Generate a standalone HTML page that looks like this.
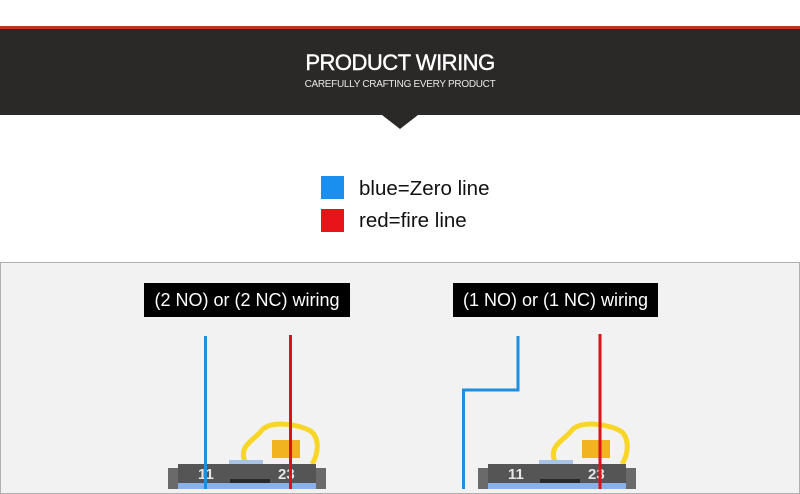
<!DOCTYPE html>
<html><head><meta charset="utf-8"><style>
body{margin:0;width:800px;height:489px;overflow:hidden;background:#fff;font-family:"Liberation Sans",sans-serif;position:relative}
.a{position:absolute}
</style></head><body>
<div class="a" style="left:0;top:26px;width:800px;height:3px;background:#b8361c"></div>
<div class="a" style="left:0;top:29px;width:800px;height:86px;background:#2b2927"></div>
<div class="a" style="left:0;top:50px;width:800px;text-align:center;color:#fff;font-size:22px;letter-spacing:-0.5px;-webkit-text-stroke:0.4px #fff">PRODUCT WIRING</div>
<div class="a" style="left:0;top:79px;width:800px;text-align:center;color:#e8e8e8;font-size:10px;letter-spacing:-0.3px">CAREFULLY CRAFTING EVERY PRODUCT</div>
<div class="a" style="left:382px;top:115px;width:0;height:0;border-left:18px solid transparent;border-right:18px solid transparent;border-top:14px solid #2b2927"></div>
<div class="a" style="left:321px;top:176px;width:23px;height:23px;background:#1a8ff0"></div>
<div class="a" style="left:321px;top:209px;width:23px;height:23px;background:#e8141a"></div>
<div class="a" style="left:359px;top:177px;font-size:20.5px;color:#111">blue=Zero line</div>
<div class="a" style="left:359px;top:209px;font-size:20.5px;color:#111">red=fire line</div>
<div class="a" style="left:0;top:262px;width:798px;height:230px;background:#f3f2f3;border:1px solid #b0b0b0"></div>
<div class="a" style="left:144px;top:283px;width:206px;height:34px;background:#000;color:#fff;font-size:18px;line-height:34px;text-align:center">(2 NO) or (2 NC) wiring</div>
<div class="a" style="left:453px;top:283px;width:205px;height:34px;background:#000;color:#fff;font-size:18px;line-height:34px;text-align:center">(1 NO) or (1 NC) wiring</div>
<svg class="a" style="left:0;top:0" width="800" height="489">
<defs><g id="d">
<path d="M245 462 C238 445 255 440 262 430 C272 420 300 424 312 432 C320 440 318 455 312 464" fill="none" stroke="#f7d628" stroke-width="5"/>
<rect x="272" y="440" width="28" height="18" fill="#f2b320"/>
<rect x="229" y="460" width="34" height="5" fill="#a9c3e6"/>
<rect x="168" y="468" width="158" height="21" fill="#6a6a6a"/>
<rect x="178" y="464" width="138" height="19" fill="#555"/>
<rect x="230" y="479" width="40" height="5" fill="#2a2a2a"/>
<rect x="178" y="483" width="138" height="6" fill="#8ab2ea"/>
<text x="198" y="479" fill="#e6e6e6" font-family="Liberation Sans" font-size="15" font-weight="bold">11</text>
<text x="278" y="479" fill="#e6e6e6" font-family="Liberation Sans" font-size="15" font-weight="bold">23</text>
</g></defs>
<use href="#d"/>
<use href="#d" transform="translate(310,0)"/>
<line x1="205.5" y1="336" x2="205.5" y2="489" stroke="#1b8fe0" stroke-width="3"/>
<line x1="290.5" y1="335" x2="290.5" y2="489" stroke="#dd1118" stroke-width="3"/>
<polyline points="518,336 518,390 463.5,390 463.5,489" fill="none" stroke="#1b8fe0" stroke-width="3"/>
<line x1="600" y1="334" x2="600" y2="489" stroke="#dd1118" stroke-width="3"/>
</svg>
</body></html>
